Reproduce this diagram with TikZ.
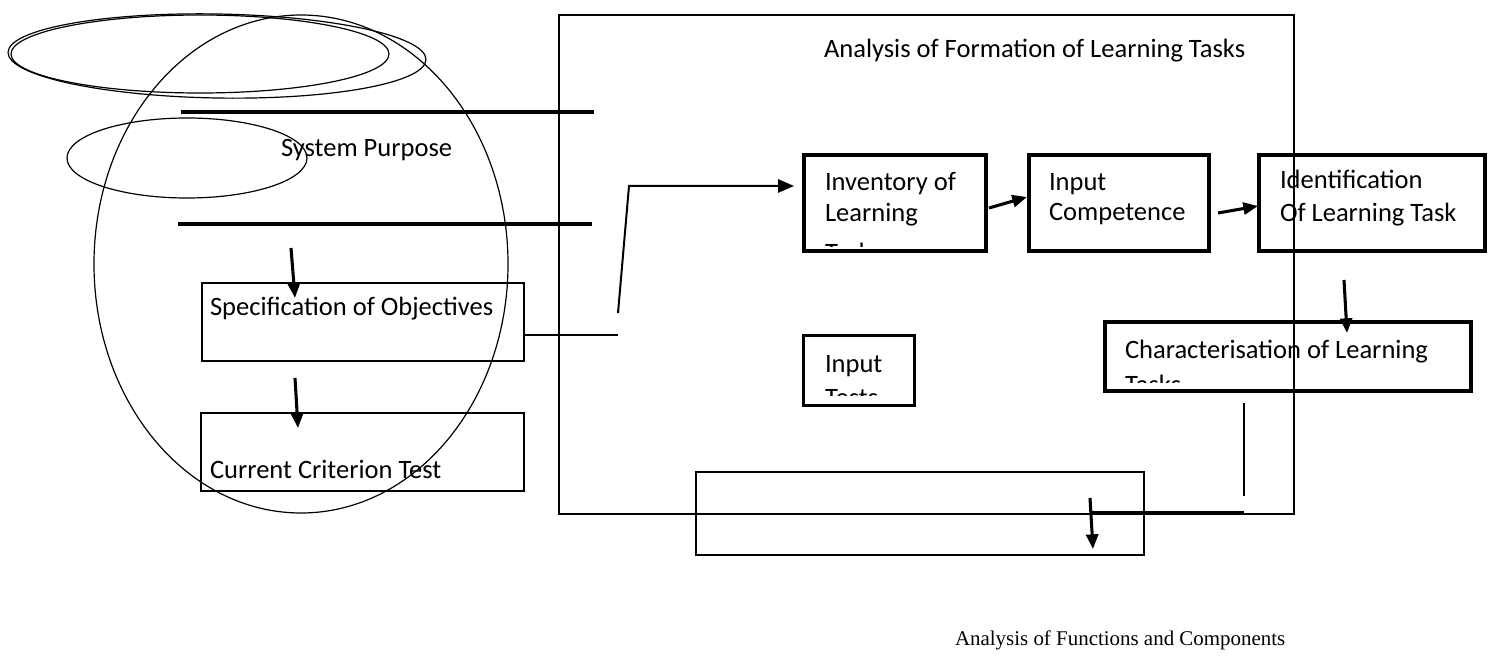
\documentclass[tikz,border=0pt]{standalone}
\usepackage{fontspec}
\setmainfont{Carlito}
\newfontfamily\timesf{Liberation Serif}
\usetikzlibrary{arrows.meta,shapes.geometric}
\begin{document}
\begin{tikzpicture}[x=0.75pt,y=-0.75pt,
  thinbox/.style={draw, line width=1.5pt, inner sep=0pt, outer sep=0pt},
  thickbox/.style={draw, line width=3pt, inner sep=0pt, outer sep=0pt},
  oval/.style={draw, ellipse, line width=0.9pt, inner sep=0pt, outer sep=0pt},
  lbl/.style={anchor=base west, inner sep=0pt, outer sep=0pt, font=\fontsize{19.9}{23}\selectfont},
  serif/.style={anchor=base west, inner sep=0pt, outer sep=0pt, font=\timesf\fontsize{15.7}{18}\selectfont},
  arr/.style={line width=2.3pt, -{Triangle[length=11pt,width=9pt]}},
  bar/.style={line width=3pt},
  conn/.style={line width=1.5pt}]
\useasboundingbox (0,0) rectangle (1489,656);
\fill[white] (0,0) rectangle (1489,656);

% ovals
\node[oval, minimum width=310.5pt, minimum height=373.5pt] (big) at (301,264) {};
\node[oval, minimum width=313.5pt, minimum height=63pt, rotate=-1] (topouter) at (217,56) {};
\node[oval, minimum width=283.5pt, minimum height=58.5pt] (topinner) at (200,54) {};
\node[oval, minimum width=180pt, minimum height=60pt] (small) at (187,158) {};

% horizontal bars
\coordinate (b1l) at (181,112); \coordinate (b1r) at (594,112);
\coordinate (b2l) at (178,224); \coordinate (b2r) at (592,224);
\draw[bar] (b1l) -- (b1r);
\draw[bar] (b2l) -- (b2r);
\node[lbl] (sp) at (281,157) {System Purpose};

% left boxes
\node[thinbox, minimum width=241.5pt, minimum height=58.5pt] (spec) at (363,322) {};
\node[lbl] (spect) at (210,315) {Specification of Objectives};
\node[thinbox, minimum width=242.25pt, minimum height=58.5pt] (crit) at (362.5,452) {};
\node[lbl] (critt) at (210,478) {Current Criterion Test};

% big rectangle
\node[thinbox, minimum width=551.25pt, minimum height=374.25pt] (frame) at (926.5,264.5) {};
\node[lbl] (title) at (824,58) {Analysis of Formation of Learning Tasks};

% inner boxes
\node[thickbox, minimum width=136.5pt, minimum height=72pt] (inv) at (895,203) {};
\begin{scope}
  \clip (806,157) rectangle (984,246);
  \node[lbl] (inv1) at (825,191) {Inventory of};
  \node[lbl] (inv2) at (825,222) {Learning};
  \node[lbl] (inv3) at (825,262) {Tasks};
\end{scope}
\node[thickbox, minimum width=135pt, minimum height=72pt] (comp) at (1119,203) {};
\node[lbl] (comp1) at (1049,191) {Input};
\node[lbl] (comp2) at (1049,221) {Competence};
\node[thickbox, minimum width=169.5pt, minimum height=72pt] (ident) at (1372,203) {};
\node[lbl] (ident1) at (1280,189) {Identification};
\node[lbl] (ident2) at (1280,222) {Of Learning Task};
\node[thickbox, minimum width=274.5pt, minimum height=51.75pt] (char) at (1288,356.5) {};
\begin{scope}
  \clip (1107,324) rectangle (1469,382);
  \node[lbl] (char1) at (1125,358) {Characterisation of Learning};
  \node[lbl] (char2) at (1125,393) {Tasks};
\end{scope}
\node[draw, line width=2.6pt, inner sep=0pt, outer sep=0pt, minimum width=83.25pt, minimum height=52.5pt] (tests) at (859,370.5) {};
\begin{scope}
  \clip (805,337) rectangle (913,395);
  \node[lbl] (tests1) at (825,372) {Input};
  \node[lbl] (tests2) at (825,406) {Tests};
\end{scope}
\node[thinbox, minimum width=336pt, minimum height=62.25pt] (bottom) at (920,513.5) {};

% connectors
\coordinate (a1s) at (291,248); \coordinate (a1e) at (295,298);
\draw[arr] (a1s) -- (a1e);
\coordinate (a2s) at (295,378); \coordinate (a2e) at (298,428);
\draw[arr] (a2s) -- (a2e);

\coordinate (h1) at (618,335);
\draw[conn] (spec.east |- h1) -- (h1);
\coordinate (s1) at (618,313); \coordinate (s2) at (629,186); \coordinate (s3) at (794,186);
\draw[conn, line join=miter, -{Triangle[length=12pt,width=10pt]}] (s1) -- (s2) -- (s3);

\coordinate (a3s) at (989,208); \coordinate (a3e) at (1027,197);
\draw[arr] (a3s) -- (a3e);
\coordinate (a4s) at (1218,213); \coordinate (a4e) at (1258,206);
\draw[arr] (a4s) -- (a4e);
\coordinate (a5s) at (1344,280); \coordinate (a5e) at (1347,333);
\draw[arr] (a5s) -- (a5e);

\coordinate (v1) at (1244,403); \coordinate (v2) at (1244,496);
\draw[conn] (v1) -- (v2);
\coordinate (t1) at (1092,513); \coordinate (t2) at (1244,513);
\draw[bar] (t1) -- (t2);
\coordinate (a6s) at (1090,498); \coordinate (a6e) at (1093,549);
\draw[arr] (a6s) -- (a6e);

\node[serif] (foot) at (955,645) {Analysis of Functions and Components};
\end{tikzpicture}
\end{document}
